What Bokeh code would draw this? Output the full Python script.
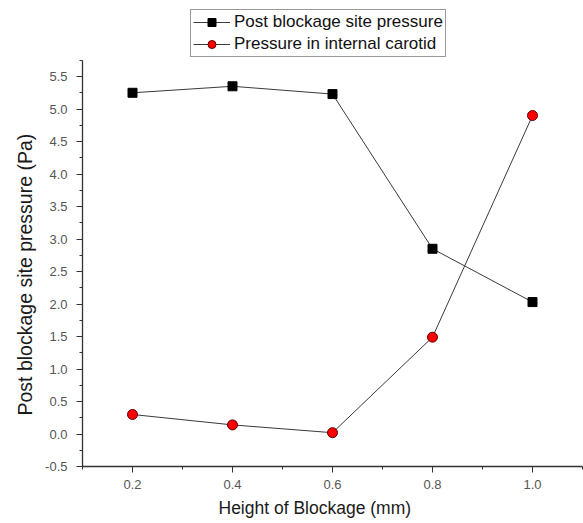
from bokeh.plotting import figure
from bokeh.models import Legend, LegendItem, Range1d, FixedTicker, PrintfTickFormatter, Title
from bokeh.embed import file_html
from bokeh.resources import INLINE

heights = [0.2, 0.4, 0.6, 0.8, 1.0]
post_blockage = [5.25, 5.35, 5.23, 2.85, 2.03]
internal_carotid = [0.30, 0.14, 0.02, 1.49, 4.90]
x_ticks = [0.2, 0.4, 0.6, 0.8, 1.0]
y_ticks = [-0.5, 0.0, 0.5, 1.0, 1.5, 2.0, 2.5, 3.0, 3.5, 4.0, 4.5, 5.0, 5.5]
x_title = "Height of Blockage (mm)"
y_title = "Post blockage site pressure (Pa)"

FONT = "Liberation Sans"

# frame spans the full top of the page so the legend (above the axes) is not clipped;
# the y axis line itself is bounded to -0.5 .. 5.75
p = figure(width=583, height=523, output_backend="svg", toolbar_location=None,
           x_range=Range1d(0.1, 1.1), y_range=Range1d(-0.5, 6.67),
           min_border_left=82, min_border_right=1, min_border_top=0, min_border_bottom=57)
p.outline_line_color = None
p.grid.visible = False
p.background_fill_color = "white"
p.border_fill_color = "white"

l1 = p.line(heights, post_blockage, line_color="#3a3a3a", line_width=1)
m1 = p.scatter(heights, post_blockage, marker="square", size=9, fill_color="black", line_color="black")
l2 = p.line(heights, internal_carotid, line_color="#3a3a3a", line_width=1)
m2 = p.scatter(heights, internal_carotid, marker="circle", size=10, fill_color="red", line_color="#5a0000")

for ax in (p.xaxis[0], p.yaxis[0]):
    ax.axis_line_color = "#333333"
    ax.axis_line_width = 1.3
    ax.major_tick_line_color = "#333333"
    ax.minor_tick_line_color = "#333333"
    ax.major_tick_in = 0
    ax.minor_tick_in = 0
    ax.major_tick_out = 6
    ax.minor_tick_out = 3
    ax.major_label_text_font = FONT
    ax.major_label_text_font_size = "13px"
    ax.major_label_text_color = "#555555"
    ax.formatter = PrintfTickFormatter(format="%.1f")

p.yaxis.bounds = (-0.5, 5.75)
p.xaxis.ticker = FixedTicker(ticks=x_ticks, minor_ticks=[0.1, 0.3, 0.5, 0.7, 0.9, 1.1])
p.yaxis.ticker = FixedTicker(ticks=y_ticks, minor_ticks=[-0.25 + 0.5 * i for i in range(13)])
p.xaxis.major_label_standoff = 7
p.yaxis.major_label_standoff = 9

# axis titles as side-panel titles so they can be offset like in the reference
p.add_layout(Title(text=y_title, align="left", offset=51, standoff=13,
                   text_font=FONT, text_font_size="19.5px", text_font_style="normal",
                   text_color="#1a1a1a"), "left")
p.add_layout(Title(text=x_title, align="left", offset=136, standoff=9,
                   text_font=FONT, text_font_size="17.5px", text_font_style="normal",
                   text_color="#1a1a1a"), "below")

legend = Legend(items=[LegendItem(label="Post blockage site pressure", renderers=[l1, m1]),
                       LegendItem(label="Pressure in internal carotid", renderers=[l2, m2])],
                location=(108, 409), orientation="vertical",
                label_text_font=FONT, label_text_font_size="17px", label_text_color="#111111",
                border_line_color="#333333", border_line_width=1,
                background_fill_color="white", background_fill_alpha=1,
                glyph_width=37, glyph_height=20, label_standoff=4,
                padding=2, spacing=2, margin=0, label_height=20)
p.add_layout(legend, "center")

open("out.html", "w").write(file_html(p, INLINE))
